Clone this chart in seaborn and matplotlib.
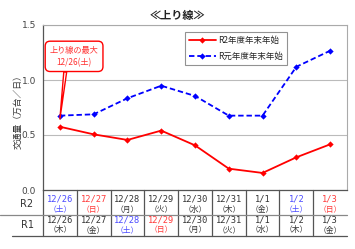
import matplotlib
matplotlib.use("Agg")
import matplotlib.pyplot as plt
import matplotlib.transforms as mtransforms
import seaborn as sns
import pandas as pd

sns.set_style("white")
plt.rcParams['font.family'] = ['Noto Sans CJK JP', 'DejaVu Sans']

# ---- data ----
dates = ["12/26", "12/27", "12/28", "12/29", "12/30", "12/31", "1/1", "1/2", "1/3"]
r2_days = ["土", "日", "月", "火", "水", "木", "金", "土", "日"]
r1_days = ["木", "金", "土", "日", "月", "火", "水", "木", "金"]
r2_values = [0.575, 0.506, 0.455, 0.540, 0.406, 0.194, 0.155, 0.297, 0.415]
r1_values = [0.676, 0.688, 0.834, 0.948, 0.855, 0.676, 0.676, 1.120, 1.266]
series_names = ["R2年度年末年始", "R元年度年末年始"]
yticks = [0.0, 0.5, 1.0, 1.5]

df = pd.DataFrame({
    "idx": list(range(len(dates))) * 2,
    "value": r2_values + r1_values,
    "series": [series_names[0]] * len(dates) + [series_names[1]] * len(dates),
})

RED = "#ff0000"
BLUE = "#0000ff"
day_colors = {"土": "#4a4aff", "日": "#ff3b3b"}

fig = plt.figure(figsize=(3.55, 2.49), dpi=100)
fig.patch.set_facecolor("white")
ax = fig.add_axes([43 / 355, 59 / 249, 304 / 355, 165 / 249])

sns.lineplot(data=df, x="idx", y="value", hue="series", style="series",
             palette=[RED, BLUE], dashes=[(None, None), (3, 1.6)],
             markers=["D", "D"], markersize=3.2, markeredgewidth=0,
             linewidth=1.3, ax=ax, legend=True)

ax.set_xlim(-0.5, len(dates) - 0.5)
ax.set_ylim(0, 1.5)
ax.set_yticks(yticks)
ax.set_yticklabels([f"{v:.1f}" for v in yticks], fontsize=6.5, color="#444444",
                   family="DejaVu Sans")
ax.set_xticks([i + 0.5 for i in range(len(dates) - 1)])
ax.set_xticklabels([])
ax.tick_params(axis="x", direction="in", length=3, color="#666666", width=0.8)
ax.tick_params(axis="y", direction="out", length=3, color="#666666", width=0.8, pad=2)
ax.set_xlabel("")
ax.set_ylabel("")
ax.yaxis.grid(True, color="#bbbbbb", linewidth=0.8)
ax.set_axisbelow(True)
for s in ["top", "right"]:
    ax.spines[s].set_color("#aaaaaa")
    ax.spines[s].set_linewidth(0.8)
for s in ["left", "bottom"]:
    ax.spines[s].set_color("#555555")
    ax.spines[s].set_linewidth(0.9)

# legend
leg = ax.legend(loc="upper left", bbox_to_anchor=(0.467, 0.955), fontsize=6.1,
                frameon=True, fancybox=False, edgecolor="#777777",
                handlelength=3.2, borderpad=0.45, labelspacing=0.8,
                handletextpad=0.3, borderaxespad=0)
leg.get_frame().set_linewidth(0.8)

# callout
ax.annotate("上り線の最大\n12/26(土)", xy=(0, r2_values[0] + 0.07), xytext=(0.42, 1.215),
            ha="center", va="center", fontsize=5.9, color="#ff3030", linespacing=1.45,
            bbox=dict(boxstyle="round,pad=0.55,rounding_size=0.6", fc="white", ec=RED, lw=1.0),
            arrowprops=dict(arrowstyle="wedge,tail_width=0.35,shrink_factor=0.5",
                            fc="white", ec=RED, lw=1.0, relpos=(0.33, 0.0),
                            shrinkA=0, shrinkB=0))

# title and y label
fig.text(0.5, 1 - 15 / 249, "≪上り線≫", ha="center", va="center",
         fontsize=8, fontweight="bold", color="#222222")
fig.text(18 / 355, 1 - 110 / 249, "交通量（万台／日）", rotation=90, ha="center",
         va="center", fontsize=6.3, color="#333333")

# ---- table under the chart ----
def ay(px):
    return (190 - px) / 165

trans = mtransforms.blended_transform_factory(ax.transData, ax.transAxes)
ftrans = mtransforms.blended_transform_factory(fig.transFigure, ax.transAxes)
line_kw = dict(color="#555555", linewidth=0.9, clip_on=False)

for i in range(len(dates) - 1):
    ax.plot([i + 0.5, i + 0.5], [ay(190), ay(236)], transform=trans, **line_kw)
ax.plot([-0.5, -0.5], [ay(190), ay(236)], transform=trans, **line_kw)
ax.plot([0, 347 / 355], [ay(214.5), ay(214.5)], transform=ftrans,
        color="#888888", linewidth=0.9, clip_on=False)
ax.plot([12 / 355, 347 / 355], [ay(236), ay(236)], transform=ftrans, **line_kw)

for rows, y1, y2 in [(r2_days, 199, 209.5), (r1_days, 219.5, 230)]:
    for i, (d, wd) in enumerate(zip(dates, rows)):
        c = day_colors.get(wd, "#333333")
        ax.text(i, ay(y1), d, transform=trans, ha="center", va="center",
                fontsize=6.3, color=c, family="DejaVu Sans Mono", clip_on=False)
        ax.text(i, ay(y2), f"（{wd}）", transform=trans, ha="center", va="center",
                fontsize=5.6, color=c, clip_on=False)

fig.text(27 / 355, 1 - 204 / 249, "R2", ha="center", va="center", fontsize=7,
         color="#333333", family="DejaVu Sans")
fig.text(27 / 355, 1 - 225 / 249, "R1", ha="center", va="center", fontsize=7,
         color="#333333", family="DejaVu Sans")

fig.savefig("out.png", dpi=100, facecolor="white")
